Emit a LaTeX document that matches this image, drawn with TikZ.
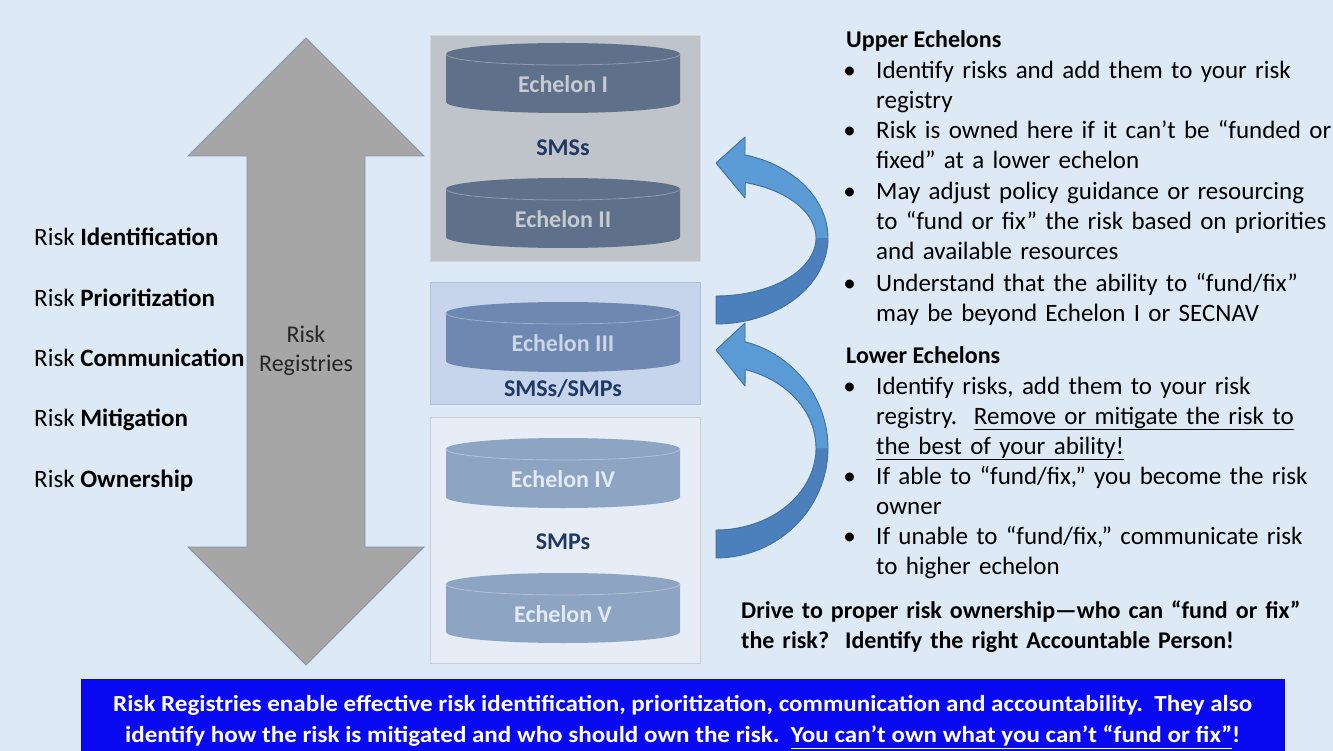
\documentclass[tikz,border=0pt]{standalone}
\usepackage{fontspec}
\setmainfont{Carlito}
\newfontfamily\bandfont[FakeStretch=1.09]{Carlito}
\usepackage{tikz}
\usetikzlibrary{positioning}
\definecolor{sky}{HTML}{DDE9F5}
\definecolor{slab}{HTML}{BFC4CA}
\definecolor{slabE}{HTML}{D3D8DE}
\definecolor{midpane}{HTML}{C6D5EB}
\definecolor{midpaneE}{HTML}{AEC0D9}
\definecolor{lowpane}{HTML}{E6EDF6}
\definecolor{lowpaneE}{HTML}{C5CED9}
\definecolor{cylD}{HTML}{5E708A}
\definecolor{cylM}{HTML}{6F88B1}
\definecolor{cylL}{HTML}{8EA4C3}
\definecolor{inkD}{HTML}{C6CBD2}
\definecolor{inkM}{HTML}{CBD6E8}
\definecolor{inkL}{HTML}{E4EAF3}
\definecolor{navy}{HTML}{1F3864}
\definecolor{shaft}{HTML}{A6A6A6}
\definecolor{shaftE}{HTML}{8497B0}
\definecolor{loopF}{HTML}{5B9BD5}
\definecolor{loopB}{HTML}{4B80BC}
\definecolor{loopE}{HTML}{41719C}
\definecolor{strip}{HTML}{0A0AF2}

\begin{document}
\begin{tikzpicture}[x=1pt,y=-1pt,
  panel/.style={anchor=north west,inner sep=0pt,line width=0.8pt,minimum width=270pt},
  cyltxt/.style={font=\fontsize{24}{29}\selectfont\bfseries},
  tier/.style={font=\fontsize{24}{29}\selectfont\bfseries,text=navy},
  lbl/.style={anchor=base west,inner sep=0pt,font=\fontsize{25}{29}\selectfont},
  head/.style={anchor=base west,inner sep=0pt,font=\fontsize{24}{30}\selectfont\bfseries},
  item/.style={anchor=base west,inner sep=0pt,text width=470pt,align=left,font=\fontsize{25}{30}\selectfont},
  bul/.style={inner sep=0pt,font=\fontsize{25}{30}\selectfont},
  msg/.style={text=white,align=center,font=\bandfont\fontsize{23}{31}\selectfont\bfseries}]
\useasboundingbox (0,0) rectangle (1333,751);
\fill[sky] (0,0) rectangle (1333,751);

\filldraw[fill=shaft,draw=shaftE,line width=0.8pt] (306,38) -- (424,156) -- (365,156) -- (365,547) -- (424,547)
  -- (306,665) -- (188,547) -- (247,547) -- (247,156) -- (188,156) -- cycle;
\node[align=center,text=black!85,font=\fontsize{24}{29}\selectfont] (reg) at (306,351) {Risk\\Registries};

\foreach \k/\y/\w in {1/246/Identification,2/306/Prioritization,3/366/Communication,4/426/Mitigation,5/487/Ownership}
  \node[lbl] (r\k) at (34,\y) {Risk \textbf{\w}};

\node[panel,fill=slab,draw=slabE,minimum height=226pt] (p1) at (430,35) {};
\node[panel,fill=midpane,draw=midpaneE,minimum height=122pt] (p2) at (430,282) {};
\node[panel,fill=lowpane,draw=lowpaneE,minimum height=246pt] (p3) at (430,417) {};

\foreach \i/\t/\lab/\body/\ink in {1/43/Echelon I/cylD/inkD,2/178/Echelon II/cylD/inkD,3/302/Echelon III/cylM/inkM,
    4/438/Echelon IV/cylL/inkL,5/573/Echelon V/cylL/inkL}{
  \fill[\body] (446,\t+11) -- (446,\t+59) arc[start angle=180,end angle=360,x radius=117pt,y radius=11pt]
    -- (680,\t+11) arc[start angle=0,end angle=180,x radius=117pt,y radius=11pt] -- cycle;
  \draw[\body!70!white,line width=0.8pt] (446,\t+11) arc[start angle=180,end angle=360,x radius=117pt,y radius=11pt];
  \node[cyltxt,text=\ink] (c\i) at (563,\t+41) {\lab};
}
\node[tier] (t1) at (563,148) {SMSs};
\node[tier] (t2) at (563,389) {SMSs/SMPs};
\node[tier] (t3) at (563,542) {SMPs};

% escalation loops: dark back face, light front face, outline
\foreach \cy/\ro/\ri/\ty/\hu/\hb in {238/86/58/163/137/198,448/110/82/350/323/386}{
  \fill[loopB] (716,\ty) -- (745,\hu) -- plot[domain=75:-90,samples=60] ({716+112*cos(\x)},{\cy-\ro*sin(\x)})
    -- plot[domain=-90:73,samples=60] ({716+100*cos(\x)},{\cy-\ri*sin(\x)}) -- (745,\hb) -- cycle;
  \fill[loopF] (716,\ty) -- (745,\hu) -- plot[domain=75:0,samples=30] ({716+112*cos(\x)},{\cy-\ro*sin(\x)})
    -- plot[domain=0:73,samples=30] ({716+100*cos(\x)},{\cy-\ri*sin(\x)}) -- (745,\hb) -- cycle;
  \draw[loopE,line width=0.9pt,line join=round] (716,\ty) -- (745,\hu) -- plot[domain=75:-90,samples=60] ({716+112*cos(\x)},{\cy-\ro*sin(\x)})
    -- plot[domain=-90:73,samples=60] ({716+100*cos(\x)},{\cy-\ri*sin(\x)}) -- (745,\hb) -- cycle;
}

\node[head] (up) at (846,48) {Upper Echelons};
\node[item] (u1) at (876,79) {Identify risks and add them to your risk\\registry};
\node[item] (u2) at (876,139) {Risk is owned here if it can’t be “funded or\\fixed” at a lower echelon};
\node[item] (u3) at (876,200) {May adjust policy guidance or resourcing\\to “fund or fix” the risk based on priorities\\and available resources};
\node[item] (u4) at (876,291) {Understand that the ability to “fund/fix”\\may be beyond Echelon I or SECNAV};

\node[head] (low) at (846,363) {Lower Echelons};
\node[item] (l1) at (876,394) {Identify risks, add them to your risk\\registry.\ \ \underline{Remove or mitigate the risk to}\\\underline{the best of your ability!}};
\node[item] (l2) at (876,484) {If able to “fund/fix,” you become the risk\\owner};
\node[item] (l3) at (876,544) {If unable to “fund/fix,” communicate risk\\to higher echelon};
\foreach \n in {u1,u2,u3,u4,l1,l2,l3}
  \node[bul,base left=20pt of \n] (b\n) {•};

\node[head,text width=600pt,align=left] (drive) at (741,618) {Drive to proper risk ownership—who can “fund or fix”\\the risk?\ \ Identify the right Accountable Person!};

\node[fill=strip,draw=strip!75!black,anchor=north west,inner sep=0pt,minimum width=1203pt,minimum height=72pt] (band) at (81,679) {};
\node[msg] (note) at ([yshift=-7pt]band.center) {Risk Registries enable effective risk identification, prioritization, communication and accountability.\ \ They also\\identify how the risk is mitigated and who should own the risk.\ \ \underline{You can’t own what you can’t “fund or fix”}!};
\end{tikzpicture}
\end{document}
